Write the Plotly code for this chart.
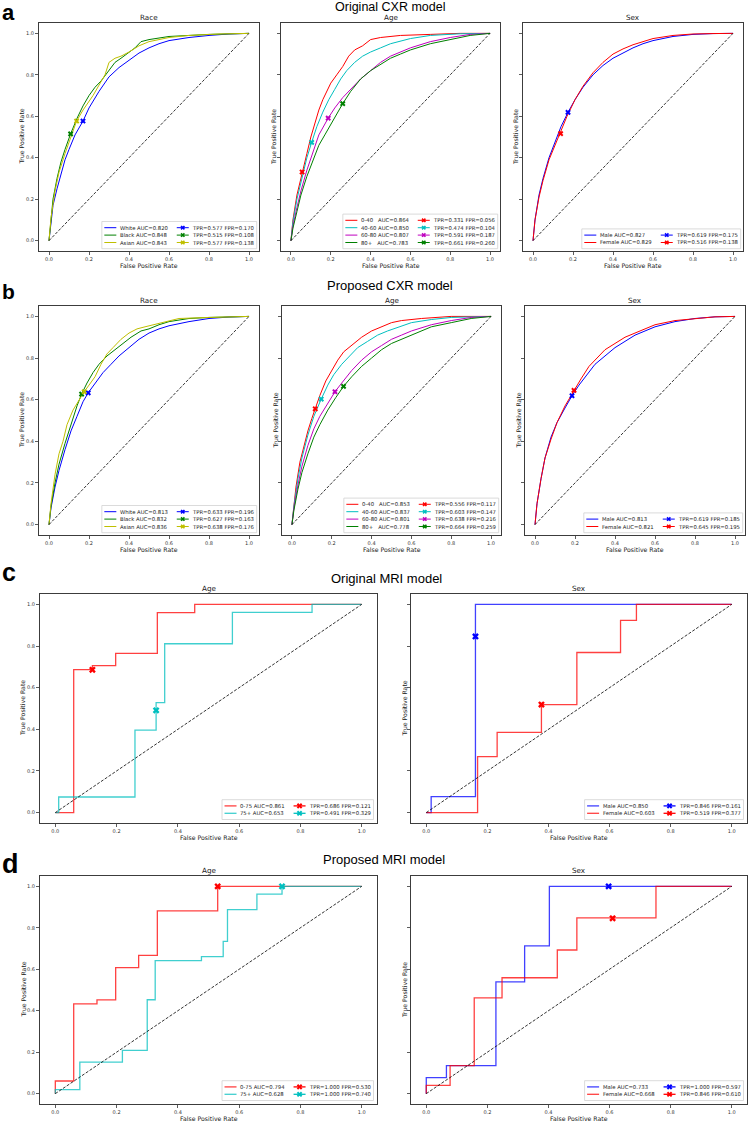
import plotly.graph_objects as go

W, H = 750, 1123

# ---------------- categories ----------------
RACE_GROUPS = ["White", "Black", "Asian"]
AGE_GROUPS_CXR = ["0-40", "40-60", "60-80", "80+"]
SEX_GROUPS = ["Male", "Female"]
AGE_GROUPS_MRI = ["0-75", "75+"]
TICKS = [0.0, 0.2, 0.4, 0.6, 0.8, 1.0]
TICK_TEXT = ["0.0", "0.2", "0.4", "0.6", "0.8", "1.0"]
CHANCE = [0.0, 1.0]

# ---------------- a: Original CXR model ----------------
A_RACE_AUC = [0.820, 0.848, 0.843]
A_RACE_OP_TPR = [0.577, 0.515, 0.577]
A_RACE_OP_FPR = [0.170, 0.108, 0.138]
A_WHITE_FPR = [0, 0.01, 0.02, 0.04, 0.06, 0.08, 0.10, 0.13, 0.17, 0.20, 0.25, 0.30, 0.35, 0.40, 0.45, 0.50, 0.55, 0.60, 0.70, 0.80, 0.90, 1.0]
A_WHITE_TPR = [0, 0.10, 0.17, 0.25, 0.32, 0.39, 0.44, 0.51, 0.577, 0.64, 0.72, 0.79, 0.835, 0.87, 0.905, 0.93, 0.95, 0.965, 0.98, 0.99, 0.997, 1.0]
A_BLACK_FPR = [0, 0.01, 0.02, 0.04, 0.06, 0.08, 0.108, 0.14, 0.17, 0.20, 0.23, 0.26, 0.30, 0.33, 0.36, 0.40, 0.43, 0.46, 0.50, 0.60, 0.70, 0.80, 1.0]
A_BLACK_TPR = [0, 0.12, 0.20, 0.30, 0.38, 0.44, 0.515, 0.59, 0.65, 0.70, 0.74, 0.77, 0.82, 0.86, 0.88, 0.91, 0.93, 0.96, 0.97, 0.985, 0.99, 0.995, 1.0]
A_ASIAN_FPR = [0, 0.01, 0.03, 0.05, 0.08, 0.11, 0.138, 0.17, 0.20, 0.22, 0.25, 0.28, 0.30, 0.33, 0.36, 0.40, 0.45, 0.50, 0.55, 0.60, 0.70, 0.85, 1.0]
A_ASIAN_TPR = [0, 0.11, 0.24, 0.33, 0.42, 0.50, 0.577, 0.63, 0.67, 0.70, 0.75, 0.80, 0.86, 0.88, 0.89, 0.91, 0.94, 0.96, 0.97, 0.98, 0.99, 0.997, 1.0]

A_AGE_AUC = [0.864, 0.850, 0.807, 0.783]
A_AGE_OP_TPR = [0.331, 0.474, 0.591, 0.661]
A_AGE_OP_FPR = [0.056, 0.104, 0.187, 0.260]
A_AGE1_FPR = [0, 0.01, 0.03, 0.056, 0.08, 0.10, 0.12, 0.14, 0.16, 0.18, 0.20, 0.23, 0.26, 0.29, 0.32, 0.36, 0.40, 0.45, 0.55, 0.70, 0.85, 1.0]
A_AGE1_TPR = [0, 0.10, 0.22, 0.331, 0.42, 0.50, 0.57, 0.63, 0.68, 0.72, 0.76, 0.80, 0.84, 0.89, 0.92, 0.94, 0.97, 0.98, 0.99, 0.995, 1.0, 1.0]
A_AGE2_FPR = [0, 0.01, 0.03, 0.06, 0.08, 0.104, 0.13, 0.16, 0.19, 0.22, 0.25, 0.28, 0.32, 0.36, 0.40, 0.45, 0.50, 0.60, 0.70, 0.85, 1.0]
A_AGE2_TPR = [0, 0.09, 0.20, 0.33, 0.40, 0.474, 0.55, 0.62, 0.68, 0.73, 0.78, 0.82, 0.86, 0.89, 0.91, 0.93, 0.95, 0.975, 0.99, 0.998, 1.0]
A_AGE3_FPR = [0, 0.01, 0.03, 0.05, 0.08, 0.11, 0.14, 0.187, 0.22, 0.26, 0.30, 0.35, 0.40, 0.45, 0.50, 0.55, 0.60, 0.70, 0.80, 0.90, 1.0]
A_AGE3_TPR = [0, 0.07, 0.16, 0.24, 0.34, 0.43, 0.51, 0.591, 0.64, 0.69, 0.73, 0.78, 0.82, 0.86, 0.89, 0.91, 0.93, 0.96, 0.98, 0.995, 1.0]
A_AGE4_FPR = [0, 0.01, 0.03, 0.05, 0.08, 0.11, 0.14, 0.17, 0.20, 0.23, 0.26, 0.30, 0.35, 0.40, 0.45, 0.50, 0.55, 0.60, 0.70, 0.80, 0.90, 1.0]
A_AGE4_TPR = [0, 0.06, 0.14, 0.22, 0.31, 0.39, 0.46, 0.51, 0.56, 0.61, 0.661, 0.72, 0.78, 0.82, 0.85, 0.88, 0.90, 0.92, 0.95, 0.97, 0.99, 1.0]

A_SEX_AUC = [0.827, 0.829]
A_SEX_OP_TPR = [0.619, 0.516]
A_SEX_OP_FPR = [0.175, 0.138]
A_MALE_FPR = [0, 0.01, 0.03, 0.05, 0.08, 0.11, 0.14, 0.175, 0.21, 0.25, 0.30, 0.35, 0.40, 0.45, 0.50, 0.55, 0.60, 0.70, 0.80, 0.90, 1.0]
A_MALE_TPR = [0, 0.10, 0.22, 0.30, 0.40, 0.48, 0.55, 0.619, 0.68, 0.74, 0.80, 0.845, 0.88, 0.905, 0.93, 0.95, 0.965, 0.985, 0.995, 0.999, 1.0]
A_FEMALE_FPR = [0, 0.01, 0.03, 0.05, 0.08, 0.11, 0.138, 0.17, 0.21, 0.25, 0.30, 0.35, 0.40, 0.45, 0.50, 0.55, 0.60, 0.70, 0.80, 0.90, 1.0]
A_FEMALE_TPR = [0, 0.10, 0.21, 0.29, 0.39, 0.46, 0.516, 0.60, 0.68, 0.745, 0.81, 0.86, 0.90, 0.925, 0.945, 0.96, 0.975, 0.99, 0.997, 0.999, 1.0]

# ---------------- b: Proposed CXR model ----------------
B_RACE_AUC = [0.813, 0.832, 0.836]
B_RACE_OP_TPR = [0.633, 0.627, 0.638]
B_RACE_OP_FPR = [0.196, 0.163, 0.176]
B_WHITE_FPR = [0, 0.01, 0.03, 0.05, 0.08, 0.11, 0.14, 0.17, 0.196, 0.23, 0.27, 0.31, 0.35, 0.40, 0.45, 0.50, 0.55, 0.60, 0.70, 0.80, 0.90, 1.0]
B_WHITE_TPR = [0, 0.08, 0.18, 0.26, 0.36, 0.45, 0.52, 0.59, 0.633, 0.68, 0.73, 0.77, 0.81, 0.85, 0.89, 0.92, 0.94, 0.955, 0.975, 0.99, 0.997, 1.0]
B_BLACK_FPR = [0, 0.01, 0.03, 0.05, 0.08, 0.11, 0.14, 0.163, 0.19, 0.22, 0.25, 0.29, 0.33, 0.37, 0.41, 0.46, 0.50, 0.55, 0.60, 0.70, 0.80, 1.0]
B_BLACK_TPR = [0, 0.09, 0.20, 0.29, 0.39, 0.48, 0.57, 0.627, 0.68, 0.73, 0.77, 0.81, 0.84, 0.87, 0.90, 0.93, 0.94, 0.96, 0.975, 0.99, 0.995, 1.0]
B_ASIAN_FPR = [0, 0.01, 0.03, 0.05, 0.07, 0.09, 0.12, 0.15, 0.176, 0.20, 0.23, 0.26, 0.29, 0.32, 0.36, 0.40, 0.44, 0.48, 0.52, 0.58, 0.65, 0.80, 1.0]
B_ASIAN_TPR = [0, 0.10, 0.24, 0.34, 0.40, 0.48, 0.55, 0.60, 0.638, 0.67, 0.71, 0.77, 0.82, 0.85, 0.89, 0.92, 0.94, 0.95, 0.96, 0.975, 0.99, 0.995, 1.0]

B_AGE_AUC = [0.853, 0.837, 0.801, 0.778]
B_AGE_OP_TPR = [0.556, 0.603, 0.638, 0.664]
B_AGE_OP_FPR = [0.117, 0.147, 0.216, 0.259]
B_AGE1_FPR = [0, 0.01, 0.02, 0.04, 0.06, 0.08, 0.10, 0.117, 0.14, 0.17, 0.20, 0.23, 0.26, 0.30, 0.35, 0.40, 0.45, 0.50, 0.55, 0.65, 0.80, 1.0]
B_AGE1_TPR = [0, 0.10, 0.18, 0.30, 0.38, 0.45, 0.51, 0.556, 0.62, 0.69, 0.74, 0.79, 0.83, 0.86, 0.90, 0.93, 0.95, 0.97, 0.98, 0.99, 1.0, 1.0]
B_AGE2_FPR = [0, 0.01, 0.03, 0.05, 0.08, 0.11, 0.147, 0.18, 0.21, 0.25, 0.29, 0.33, 0.38, 0.43, 0.48, 0.54, 0.60, 0.70, 0.80, 1.0]
B_AGE2_TPR = [0, 0.09, 0.22, 0.32, 0.43, 0.52, 0.603, 0.67, 0.72, 0.77, 0.81, 0.85, 0.88, 0.91, 0.93, 0.95, 0.97, 0.985, 0.995, 1.0]
B_AGE3_FPR = [0, 0.01, 0.03, 0.05, 0.08, 0.11, 0.14, 0.18, 0.216, 0.25, 0.30, 0.35, 0.40, 0.45, 0.50, 0.55, 0.60, 0.70, 0.80, 0.90, 1.0]
B_AGE3_TPR = [0, 0.08, 0.19, 0.28, 0.38, 0.46, 0.52, 0.58, 0.638, 0.68, 0.74, 0.79, 0.83, 0.86, 0.89, 0.91, 0.93, 0.96, 0.98, 0.995, 1.0]
B_AGE4_FPR = [0, 0.01, 0.03, 0.05, 0.08, 0.11, 0.14, 0.18, 0.22, 0.259, 0.30, 0.35, 0.40, 0.45, 0.50, 0.55, 0.60, 0.70, 0.80, 0.90, 1.0]
B_AGE4_TPR = [0, 0.07, 0.17, 0.25, 0.34, 0.42, 0.48, 0.55, 0.61, 0.664, 0.71, 0.76, 0.80, 0.84, 0.87, 0.89, 0.91, 0.95, 0.97, 0.99, 1.0]

B_SEX_AUC = [0.813, 0.821]
B_SEX_OP_TPR = [0.619, 0.645]
B_SEX_OP_FPR = [0.185, 0.195]
B_MALE_FPR = [0, 0.01, 0.03, 0.05, 0.08, 0.11, 0.15, 0.185, 0.22, 0.26, 0.30, 0.35, 0.40, 0.45, 0.50, 0.55, 0.60, 0.70, 0.80, 0.90, 1.0]
B_MALE_TPR = [0, 0.10, 0.22, 0.32, 0.42, 0.49, 0.56, 0.619, 0.67, 0.72, 0.77, 0.81, 0.85, 0.88, 0.91, 0.93, 0.95, 0.975, 0.99, 0.998, 1.0]
B_FEMALE_FPR = [0, 0.01, 0.03, 0.05, 0.08, 0.11, 0.15, 0.195, 0.23, 0.27, 0.31, 0.35, 0.40, 0.45, 0.50, 0.55, 0.60, 0.70, 0.80, 0.90, 1.0]
B_FEMALE_TPR = [0, 0.10, 0.22, 0.32, 0.41, 0.49, 0.57, 0.645, 0.70, 0.76, 0.80, 0.84, 0.87, 0.90, 0.92, 0.94, 0.96, 0.98, 0.99, 0.998, 1.0]

# ---------------- c: Original MRI model ----------------
C_AGE_AUC = [0.861, 0.653]
C_AGE_OP_TPR = [0.686, 0.491]
C_AGE_OP_FPR = [0.121, 0.329]
C_AGE1_FPR = [0, 0.06, 0.06, 0.121, 0.121, 0.197, 0.197, 0.333, 0.333, 0.455, 0.455, 1.0]
C_AGE1_TPR = [0, 0, 0.687, 0.687, 0.706, 0.706, 0.765, 0.765, 0.961, 0.961, 1.0, 1.0]
C_AGE2_FPR = [0, 0.011, 0.011, 0.26, 0.26, 0.329, 0.329, 0.357, 0.357, 0.578, 0.578, 0.838, 0.838, 1.0]
C_AGE2_TPR = [0, 0, 0.075, 0.075, 0.396, 0.396, 0.528, 0.528, 0.811, 0.811, 0.962, 0.962, 1.0, 1.0]

C_SEX_AUC = [0.850, 0.603]
C_SEX_OP_TPR = [0.846, 0.519]
C_SEX_OP_FPR = [0.161, 0.377]
C_MALE_FPR = [0, 0.016, 0.016, 0.161, 0.161, 1.0]
C_MALE_TPR = [0, 0, 0.077, 0.077, 1.0, 1.0]
C_FEMALE_FPR = [0, 0.168, 0.168, 0.232, 0.232, 0.377, 0.377, 0.493, 0.493, 0.636, 0.636, 0.688, 0.688, 1.0]
C_FEMALE_TPR = [0, 0, 0.269, 0.269, 0.385, 0.385, 0.519, 0.519, 0.769, 0.769, 0.923, 0.923, 1.0, 1.0]

# ---------------- d: Proposed MRI model ----------------
D_AGE_AUC = [0.794, 0.628]
D_AGE_OP_TPR = [1.000, 1.000]
D_AGE_OP_FPR = [0.530, 0.740]
D_AGE1_FPR = [0, 0, 0.06, 0.06, 0.136, 0.136, 0.197, 0.197, 0.272, 0.272, 0.333, 0.333, 0.530, 0.530, 1.0]
D_AGE1_TPR = [0, 0.061, 0.061, 0.433, 0.433, 0.452, 0.452, 0.608, 0.608, 0.667, 0.667, 0.882, 0.882, 1.0, 1.0]
D_AGE2_FPR = [0, 0, 0.08, 0.08, 0.219, 0.219, 0.30, 0.30, 0.326, 0.326, 0.477, 0.477, 0.548, 0.548, 0.562, 0.562, 0.658, 0.658, 0.740, 0.740, 1.0]
D_AGE2_TPR = [0, 0.019, 0.019, 0.152, 0.152, 0.209, 0.209, 0.453, 0.453, 0.642, 0.642, 0.661, 0.661, 0.735, 0.735, 0.888, 0.888, 0.963, 0.963, 1.0, 1.0]

D_SEX_AUC = [0.733, 0.668]
D_SEX_OP_TPR = [1.000, 0.846]
D_SEX_OP_FPR = [0.597, 0.610]
D_MALE_FPR = [0, 0, 0.066, 0.066, 0.228, 0.228, 0.322, 0.322, 0.403, 0.403, 1.0]
D_MALE_TPR = [0, 0.077, 0.077, 0.135, 0.135, 0.539, 0.539, 0.713, 0.713, 1.0, 1.0]
D_FEMALE_FPR = [0, 0, 0.078, 0.078, 0.157, 0.157, 0.248, 0.248, 0.429, 0.429, 0.493, 0.493, 0.752, 0.752, 1.0]
D_FEMALE_TPR = [0, 0.04, 0.04, 0.135, 0.135, 0.462, 0.462, 0.559, 0.559, 0.693, 0.693, 0.848, 0.848, 1.0, 1.0]

# ---------------- styles ----------------
BLUE, GREEN, YELLOW, RED, CYAN, MAGENTA = "#0000ff", "#008000", "#bfbf00", "#ff0000", "#00bfbf", "#bf00bf"
RACE_COLORS = [BLUE, GREEN, YELLOW]
AGE_COLORS_CXR = [RED, CYAN, MAGENTA, GREEN]
SEX_COLORS = [BLUE, RED]
AGE_COLORS_MRI = [RED, CYAN]
NAME_PAD = {"0-40": 3, "80+": 3}

CHAR_W = {" ": 0.318, "\u00a0": 0.318, ".": 0.318, "=": 0.838, "-": 0.361, "+": 0.838,
          "A": 0.684, "B": 0.686, "C": 0.698, "F": 0.575, "M": 0.863, "P": 0.603, "R": 0.695,
          "T": 0.611, "U": 0.732, "W": 0.989, "a": 0.613, "c": 0.550, "e": 0.615, "h": 0.634,
          "i": 0.278, "k": 0.579, "l": 0.278, "m": 0.974, "n": 0.634, "s": 0.521, "t": 0.392}
for _d in "0123456789":
    CHAR_W[_d] = 0.636


def text_w(s, size):
    return sum(CHAR_W.get(c, 0.6) for c in s) * size


def rgba(hexc, a):
    h = hexc.lstrip("#")
    return "rgba(%d,%d,%d,%s)" % (int(h[0:2], 16), int(h[2:4], 16), int(h[4:6], 16), a)


PANELS = [
    dict(frame=(39, 259, 23, 251), title="Race", groups=RACE_GROUPS, colors=RACE_COLORS,
         curves=[(A_WHITE_FPR, A_WHITE_TPR), (A_BLACK_FPR, A_BLACK_TPR), (A_ASIAN_FPR, A_ASIAN_TPR)],
         auc=A_RACE_AUC, op_fpr=A_RACE_OP_FPR, op_tpr=A_RACE_OP_TPR, mri=False, first=True),
    dict(frame=(281, 500, 23, 251), title="Age", groups=AGE_GROUPS_CXR, colors=AGE_COLORS_CXR,
         curves=[(A_AGE1_FPR, A_AGE1_TPR), (A_AGE2_FPR, A_AGE2_TPR), (A_AGE3_FPR, A_AGE3_TPR), (A_AGE4_FPR, A_AGE4_TPR)],
         auc=A_AGE_AUC, op_fpr=A_AGE_OP_FPR, op_tpr=A_AGE_OP_TPR, mri=False, first=False),
    dict(frame=(523, 743, 23, 251), title="Sex", groups=SEX_GROUPS, colors=SEX_COLORS,
         curves=[(A_MALE_FPR, A_MALE_TPR), (A_FEMALE_FPR, A_FEMALE_TPR)],
         auc=A_SEX_AUC, op_fpr=A_SEX_OP_FPR, op_tpr=A_SEX_OP_TPR, mri=False, first=False),
    dict(frame=(39, 259, 306, 535), title="Race", groups=RACE_GROUPS, colors=RACE_COLORS,
         curves=[(B_WHITE_FPR, B_WHITE_TPR), (B_BLACK_FPR, B_BLACK_TPR), (B_ASIAN_FPR, B_ASIAN_TPR)],
         auc=B_RACE_AUC, op_fpr=B_RACE_OP_FPR, op_tpr=B_RACE_OP_TPR, mri=False, first=True),
    dict(frame=(282, 501, 306, 535), title="Age", groups=AGE_GROUPS_CXR, colors=AGE_COLORS_CXR,
         curves=[(B_AGE1_FPR, B_AGE1_TPR), (B_AGE2_FPR, B_AGE2_TPR), (B_AGE3_FPR, B_AGE3_TPR), (B_AGE4_FPR, B_AGE4_TPR)],
         auc=B_AGE_AUC, op_fpr=B_AGE_OP_FPR, op_tpr=B_AGE_OP_TPR, mri=False, first=False),
    dict(frame=(525, 745, 306, 535), title="Sex", groups=SEX_GROUPS, colors=SEX_COLORS,
         curves=[(B_MALE_FPR, B_MALE_TPR), (B_FEMALE_FPR, B_FEMALE_TPR)],
         auc=B_SEX_AUC, op_fpr=B_SEX_OP_FPR, op_tpr=B_SEX_OP_TPR, mri=False, first=False),
    dict(frame=(40, 377, 594, 823), title="Age", groups=AGE_GROUPS_MRI, colors=AGE_COLORS_MRI,
         curves=[(C_AGE1_FPR, C_AGE1_TPR), (C_AGE2_FPR, C_AGE2_TPR)],
         auc=C_AGE_AUC, op_fpr=C_AGE_OP_FPR, op_tpr=C_AGE_OP_TPR, mri=True, first=True),
    dict(frame=(411, 747, 594, 823), title="Sex", groups=SEX_GROUPS, colors=SEX_COLORS,
         curves=[(C_MALE_FPR, C_MALE_TPR), (C_FEMALE_FPR, C_FEMALE_TPR)],
         auc=C_SEX_AUC, op_fpr=C_SEX_OP_FPR, op_tpr=C_SEX_OP_TPR, mri=True, first=False),
    dict(frame=(40, 377, 876, 1104), title="Age", groups=AGE_GROUPS_MRI, colors=AGE_COLORS_MRI,
         curves=[(D_AGE1_FPR, D_AGE1_TPR), (D_AGE2_FPR, D_AGE2_TPR)],
         auc=D_AGE_AUC, op_fpr=D_AGE_OP_FPR, op_tpr=D_AGE_OP_TPR, mri=True, first=True),
    dict(frame=(411, 747, 876, 1104), title="Sex", groups=SEX_GROUPS, colors=SEX_COLORS,
         curves=[(D_MALE_FPR, D_MALE_TPR), (D_FEMALE_FPR, D_FEMALE_TPR)],
         auc=D_SEX_AUC, op_fpr=D_SEX_OP_FPR, op_tpr=D_SEX_OP_TPR, mri=True, first=False),
]

SUPTITLES = [("Original CXR model", 390, 7.2, 12.5), ("Proposed CXR model", 390, 285.5, 13),
             ("Original MRI model", 386, 578, 13), ("Proposed MRI model", 384, 859, 13)]
LETTERS = [("a", 13, 22), ("b", 291, 21), ("c", 572, 25), ("d", 864, 27)]

fig = go.Figure()


def paper(px, py):
    return px / W, 1 - py / H


def to_data(frame, px, py):
    x0, x1, y0, y1 = frame
    return -0.05 + 1.1 * (px - x0) / (x1 - x0), -0.05 + 1.1 * (y1 - py) / (y1 - y0)


def add_text(txt, px, py, size, family="DejaVu Sans", color="#1a1a1a", xanchor="center", angle=0):
    x, y = paper(px, py)
    fig.add_annotation(text=txt, x=x, y=y, xref="paper", yref="paper", showarrow=False,
                       xanchor=xanchor, yanchor="middle", textangle=angle, borderpad=0,
                       font=dict(family=family, size=size, color=color))


LEG_FONT = 5.3
layout_axes = {}
for i, p in enumerate(PANELS):
    sfx = "" if i == 0 else str(i + 1)
    xr, yr = "x" + sfx, "y" + sfx
    fx0, fx1, fy0, fy1 = p["frame"]
    common = dict(range=[-0.05, 1.05], tickvals=TICKS, ticktext=TICK_TEXT, ticks="outside",
                  ticklen=3, tickwidth=0.8, tickcolor="#333333", showline=True, mirror=True,
                  linecolor="#3c3c3c", linewidth=1, showgrid=False, zeroline=False,
                  fixedrange=True, tickfont=dict(family="DejaVu Sans", size=5, color="#333333"))
    layout_axes["xaxis" + sfx] = dict(domain=[fx0 / W, fx1 / W], anchor=yr, **common)
    layout_axes["yaxis" + sfx] = dict(domain=[1 - fy1 / H, 1 - fy0 / H], anchor=xr,
                                      showticklabels=p["first"], **common)

    mri = p["mri"]
    lw = 1.3 if mri else 1.0
    ms = 6 if mri else 5
    line_cols = [rgba(c, 0.75) if mri else c for c in p["colors"]]

    for (fpr, tpr), lc in zip(p["curves"], line_cols):
        fig.add_trace(go.Scatter(x=fpr, y=tpr, mode="lines", line=dict(color=lc, width=lw),
                                 xaxis=xr, yaxis=yr, hoverinfo="skip", showlegend=False))
    fig.add_trace(go.Scatter(x=CHANCE, y=CHANCE, mode="lines",
                             line=dict(color="black", width=0.8, dash="3px,1.6px"),
                             xaxis=xr, yaxis=yr, hoverinfo="skip", showlegend=False))
    for fv, tv, c in zip(p["op_fpr"], p["op_tpr"], p["colors"]):
        fig.add_trace(go.Scatter(x=[fv], y=[tv], mode="markers",
                                 marker=dict(symbol="x", size=ms, color=c, line=dict(width=0)),
                                 xaxis=xr, yaxis=yr, hoverinfo="skip", showlegend=False))

    # ---- legend (two columns, lower right) ----
    labels1 = []
    for g, a in zip(p["groups"], p["auc"]):
        labels1.append(g + "\u00a0" * NAME_PAD.get(g, 1) + "AUC=%.3f" % a)
    labels2 = ["TPR=%.3f FPR=%.3f" % (t, f) for t, f in zip(p["op_tpr"], p["op_fpr"])]
    pad, pitch, hl, hp, cs = 2.5, 7.4, 12, 2.5, 10
    offset = 3.5 if mri else 2.3
    t1 = max(text_w(s, LEG_FONT) for s in labels1)
    t2 = max(text_w(s, LEG_FONT) for s in labels2)
    wb = 2 * pad + hl + hp + t1 + cs + hl + hp + t2 + 2
    n = len(labels1)
    hb = 2 * pad + n * pitch
    right, bottom = fx1 - offset, fy1 - offset
    left, top = right - wb, bottom - hb
    corners = [to_data(p["frame"], a, b) for a, b in
               [(left, bottom), (right, bottom), (right, top), (left, top), (left, bottom)]]
    fig.add_trace(go.Scatter(x=[c[0] for c in corners], y=[c[1] for c in corners], mode="lines",
                             fill="toself", fillcolor="rgba(255,255,255,0.85)",
                             line=dict(color="#d2d2d2", width=0.8), xaxis=xr, yaxis=yr,
                             hoverinfo="skip", showlegend=False))
    for j in range(n):
        cy = top + pad + pitch * (j + 0.5)
        hx0 = left + pad
        hx1 = hx0 + hl
        (dx0, dy), (dx1, _) = to_data(p["frame"], hx0, cy), to_data(p["frame"], hx1, cy)
        fig.add_trace(go.Scatter(x=[dx0, dx1], y=[dy, dy], mode="lines",
                                 line=dict(color=line_cols[j], width=lw), xaxis=xr, yaxis=yr,
                                 hoverinfo="skip", showlegend=False))
        add_text(labels1[j], hx1 + hp, cy, LEG_FONT, xanchor="left")
        c2 = hx1 + hp + t1 + cs
        (ex0, _), (ex1, _), (em, _) = (to_data(p["frame"], c2, cy), to_data(p["frame"], c2 + hl, cy),
                                       to_data(p["frame"], c2 + hl / 2, cy))
        fig.add_trace(go.Scatter(x=[ex0, ex1], y=[dy, dy], mode="lines",
                                 line=dict(color=p["colors"][j], width=lw), xaxis=xr, yaxis=yr,
                                 hoverinfo="skip", showlegend=False))
        fig.add_trace(go.Scatter(x=[em], y=[dy], mode="markers",
                                 marker=dict(symbol="x", size=ms - 1, color=p["colors"][j], line=dict(width=0)),
                                 xaxis=xr, yaxis=yr, hoverinfo="skip", showlegend=False))
        add_text(labels2[j], c2 + hl + hp, cy, LEG_FONT, xanchor="left")

    # ---- titles / axis labels ----
    add_text(p["title"], (fx0 + fx1) / 2, fy0 - 5.2, 7.2)
    add_text("False Positive Rate", (fx0 + fx1) / 2, fy1 + 14, 6.2)
    ylx = fx0 - 17.5 if p["first"] else fx0 - 7
    add_text("True Positive Rate", ylx, (fy0 + fy1) / 2, 6.2, angle=-90)

for txt, cx, cy, fs in SUPTITLES:
    add_text(txt, cx, cy, fs, family="Liberation Sans", color="#000000")
for txt, cy, size in LETTERS:
    add_text("<b>%s</b>" % txt, 1, cy, size, family="Liberation Sans", color="#000000", xanchor="left")

fig.update_layout(width=W, height=H, margin=dict(l=0, r=0, t=0, b=0), showlegend=False,
                  paper_bgcolor="white", plot_bgcolor="white", **layout_axes)

fig.write_html("out.html", config={"displayModeBar": False, "staticPlot": True},
               post_script="document.body.style.margin='0';document.body.style.overflow='hidden';")
